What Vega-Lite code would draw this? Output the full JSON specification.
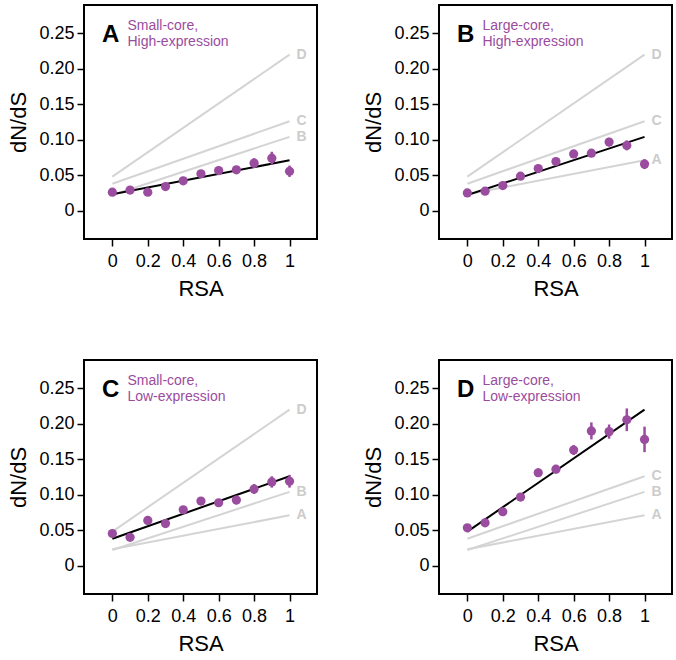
{
  "$schema": "https://vega.github.io/schema/vega-lite/v6.json",
  "padding": {"left": 6, "top": 4, "right": 0, "bottom": 0},
  "bounds": "flush",
  "spacing": {"row": 121, "column": 122},
  "data": {"values": [
    {"kind":"pt","panel":"A","rsa":0,"dnds":0.026,"lo":0.024,"hi":0.028},
    {"kind":"pt","panel":"A","rsa":0.1,"dnds":0.029,"lo":0.027,"hi":0.031},
    {"kind":"pt","panel":"A","rsa":0.2,"dnds":0.026,"lo":0.023,"hi":0.029},
    {"kind":"pt","panel":"A","rsa":0.3,"dnds":0.034,"lo":0.031,"hi":0.037},
    {"kind":"pt","panel":"A","rsa":0.4,"dnds":0.042,"lo":0.039,"hi":0.045},
    {"kind":"pt","panel":"A","rsa":0.5,"dnds":0.052,"lo":0.049,"hi":0.055},
    {"kind":"pt","panel":"A","rsa":0.6,"dnds":0.0565,"lo":0.0525,"hi":0.0605},
    {"kind":"pt","panel":"A","rsa":0.7,"dnds":0.0575,"lo":0.0535,"hi":0.0615},
    {"kind":"pt","panel":"A","rsa":0.8,"dnds":0.067,"lo":0.060,"hi":0.074},
    {"kind":"pt","panel":"A","rsa":0.9,"dnds":0.074,"lo":0.065,"hi":0.083},
    {"kind":"pt","panel":"A","rsa":1,"dnds":0.0555,"lo":0.0475,"hi":0.0635},
    {"kind":"pt","panel":"B","rsa":0,"dnds":0.025,"lo":0.023,"hi":0.027},
    {"kind":"pt","panel":"B","rsa":0.1,"dnds":0.0274,"lo":0.0254,"hi":0.0294},
    {"kind":"pt","panel":"B","rsa":0.2,"dnds":0.0354,"lo":0.0324,"hi":0.0384},
    {"kind":"pt","panel":"B","rsa":0.3,"dnds":0.0486,"lo":0.0456,"hi":0.0516},
    {"kind":"pt","panel":"B","rsa":0.4,"dnds":0.0594,"lo":0.0564,"hi":0.0624},
    {"kind":"pt","panel":"B","rsa":0.5,"dnds":0.0693,"lo":0.0653,"hi":0.0733},
    {"kind":"pt","panel":"B","rsa":0.6,"dnds":0.080,"lo":0.076,"hi":0.084},
    {"kind":"pt","panel":"B","rsa":0.7,"dnds":0.081,"lo":0.077,"hi":0.085},
    {"kind":"pt","panel":"B","rsa":0.8,"dnds":0.0967,"lo":0.0907,"hi":0.1027},
    {"kind":"pt","panel":"B","rsa":0.9,"dnds":0.092,"lo":0.085,"hi":0.099},
    {"kind":"pt","panel":"B","rsa":1,"dnds":0.0656,"lo":0.0586,"hi":0.0726},
    {"kind":"pt","panel":"C","rsa":0,"dnds":0.0453,"lo":0.0423,"hi":0.0483},
    {"kind":"pt","panel":"C","rsa":0.1,"dnds":0.040,"lo":0.037,"hi":0.043},
    {"kind":"pt","panel":"C","rsa":0.2,"dnds":0.0637,"lo":0.0597,"hi":0.0677},
    {"kind":"pt","panel":"C","rsa":0.3,"dnds":0.0594,"lo":0.0554,"hi":0.0634},
    {"kind":"pt","panel":"C","rsa":0.4,"dnds":0.0788,"lo":0.0748,"hi":0.0828},
    {"kind":"pt","panel":"C","rsa":0.5,"dnds":0.091,"lo":0.087,"hi":0.095},
    {"kind":"pt","panel":"C","rsa":0.6,"dnds":0.0887,"lo":0.0837,"hi":0.0937},
    {"kind":"pt","panel":"C","rsa":0.7,"dnds":0.0925,"lo":0.0865,"hi":0.0985},
    {"kind":"pt","panel":"C","rsa":0.8,"dnds":0.108,"lo":0.101,"hi":0.115},
    {"kind":"pt","panel":"C","rsa":0.9,"dnds":0.118,"lo":0.110,"hi":0.126},
    {"kind":"pt","panel":"C","rsa":1,"dnds":0.119,"lo":0.110,"hi":0.128},
    {"kind":"pt","panel":"D","rsa":0,"dnds":0.0533,"lo":0.0503,"hi":0.0563},
    {"kind":"pt","panel":"D","rsa":0.1,"dnds":0.0604,"lo":0.0574,"hi":0.0634},
    {"kind":"pt","panel":"D","rsa":0.2,"dnds":0.076,"lo":0.072,"hi":0.080},
    {"kind":"pt","panel":"D","rsa":0.3,"dnds":0.0967,"lo":0.0917,"hi":0.1017},
    {"kind":"pt","panel":"D","rsa":0.4,"dnds":0.131,"lo":0.125,"hi":0.137},
    {"kind":"pt","panel":"D","rsa":0.5,"dnds":0.136,"lo":0.130,"hi":0.142},
    {"kind":"pt","panel":"D","rsa":0.6,"dnds":0.163,"lo":0.156,"hi":0.170},
    {"kind":"pt","panel":"D","rsa":0.7,"dnds":0.190,"lo":0.178,"hi":0.202},
    {"kind":"pt","panel":"D","rsa":0.8,"dnds":0.189,"lo":0.179,"hi":0.199},
    {"kind":"pt","panel":"D","rsa":0.9,"dnds":0.2057,"lo":0.1897,"hi":0.2217},
    {"kind":"pt","panel":"D","rsa":1,"dnds":0.178,"lo":0.160,"hi":0.196},
    {"kind":"line","panel":"A","series":"A","rsa":0,"dnds":0.023},
    {"kind":"line","panel":"A","series":"A","rsa":1,"dnds":0.071},
    {"kind":"line","panel":"A","series":"B","rsa":0,"dnds":0.022},
    {"kind":"line","panel":"A","series":"B","rsa":1,"dnds":0.104},
    {"kind":"line","panel":"A","series":"C","rsa":0,"dnds":0.038},
    {"kind":"line","panel":"A","series":"C","rsa":1,"dnds":0.126},
    {"kind":"line","panel":"A","series":"D","rsa":0,"dnds":0.048},
    {"kind":"line","panel":"A","series":"D","rsa":1,"dnds":0.220},
    {"kind":"line","panel":"B","series":"A","rsa":0,"dnds":0.023},
    {"kind":"line","panel":"B","series":"A","rsa":1,"dnds":0.071},
    {"kind":"line","panel":"B","series":"B","rsa":0,"dnds":0.022},
    {"kind":"line","panel":"B","series":"B","rsa":1,"dnds":0.104},
    {"kind":"line","panel":"B","series":"C","rsa":0,"dnds":0.038},
    {"kind":"line","panel":"B","series":"C","rsa":1,"dnds":0.126},
    {"kind":"line","panel":"B","series":"D","rsa":0,"dnds":0.048},
    {"kind":"line","panel":"B","series":"D","rsa":1,"dnds":0.220},
    {"kind":"line","panel":"C","series":"A","rsa":0,"dnds":0.023},
    {"kind":"line","panel":"C","series":"A","rsa":1,"dnds":0.071},
    {"kind":"line","panel":"C","series":"B","rsa":0,"dnds":0.022},
    {"kind":"line","panel":"C","series":"B","rsa":1,"dnds":0.104},
    {"kind":"line","panel":"C","series":"C","rsa":0,"dnds":0.038},
    {"kind":"line","panel":"C","series":"C","rsa":1,"dnds":0.126},
    {"kind":"line","panel":"C","series":"D","rsa":0,"dnds":0.048},
    {"kind":"line","panel":"C","series":"D","rsa":1,"dnds":0.220},
    {"kind":"line","panel":"D","series":"A","rsa":0,"dnds":0.023},
    {"kind":"line","panel":"D","series":"A","rsa":1,"dnds":0.071},
    {"kind":"line","panel":"D","series":"B","rsa":0,"dnds":0.022},
    {"kind":"line","panel":"D","series":"B","rsa":1,"dnds":0.104},
    {"kind":"line","panel":"D","series":"C","rsa":0,"dnds":0.038},
    {"kind":"line","panel":"D","series":"C","rsa":1,"dnds":0.126},
    {"kind":"line","panel":"D","series":"D","rsa":0,"dnds":0.048},
    {"kind":"line","panel":"D","series":"D","rsa":1,"dnds":0.220},
    {"kind":"title","panel":"A","desc1":"Small-core,","desc2":"High-expression"},
    {"kind":"title","panel":"B","desc1":"Large-core,","desc2":"High-expression"},
    {"kind":"title","panel":"C","desc1":"Small-core,","desc2":"Low-expression"},
    {"kind":"title","panel":"D","desc1":"Large-core,","desc2":"Low-expression"}
  ]},
  "facet": {"field": "panel", "type": "nominal", "title": null, "header": {"labels": false, "title": null, "labelExpr": "''", "labelFontSize": 0, "labelPadding": 0}},
  "columns": 2,
  "resolve": {"axis": {"x": "independent", "y": "independent"}},
  "spec": {
    "width": 233,
    "height": 234,
    "layer": [
      {
        "transform": [{"filter": "datum.kind == 'line' && datum.series != datum.panel"}],
        "mark": {"type": "line", "color": "#d4d4d4", "strokeWidth": 2},
        "encoding": {
          "x": {"field": "rsa", "type": "quantitative", "title": "RSA",
            "scale": {"domain": [-0.16, 1.155], "nice": false, "zero": false},
            "axis": {"values": [0, 0.2, 0.4, 0.6, 0.8, 1], "format": "~g", "labelPadding": 6, "titlePadding": 8}},
          "y": {"field": "dnds", "type": "quantitative", "title": "dN/dS",
            "scale": {"domain": [-0.04, 0.29], "nice": false, "zero": false},
            "axis": {"values": [0, 0.05, 0.1, 0.15, 0.2, 0.25], "labelExpr": "datum.value == 0 ? '0' : format(datum.value, '.2f')", "labelPadding": 3, "titlePadding": 8}},
          "detail": {"field": "series", "type": "nominal"}
        }
      },
      {
        "transform": [{"filter": "datum.kind == 'line' && datum.series != datum.panel && datum.rsa == 1"}],
        "mark": {"type": "text", "align": "left", "baseline": "middle", "dx": 7, "fontSize": 14, "fontWeight": "bold", "color": "#cccccc"},
        "encoding": {
          "x": {"field": "rsa", "type": "quantitative", "title": "RSA"},
          "y": {"field": "dnds", "type": "quantitative", "title": "dN/dS"},
          "text": {"field": "series", "type": "nominal"}
        }
      },
      {
        "transform": [{"filter": "datum.kind == 'line' && datum.series == datum.panel"}],
        "mark": {"type": "line", "color": "black", "strokeWidth": 2},
        "encoding": {
          "x": {"field": "rsa", "type": "quantitative", "title": "RSA"},
          "y": {"field": "dnds", "type": "quantitative", "title": "dN/dS"},
          "detail": {"field": "series", "type": "nominal"}
        }
      },
      {
        "transform": [{"filter": "datum.kind == 'pt'"}],
        "mark": {"type": "rule", "color": "#9a4c9e", "strokeWidth": 2.5},
        "encoding": {
          "x": {"field": "rsa", "type": "quantitative", "title": "RSA"},
          "y": {"field": "lo", "type": "quantitative", "title": "dN/dS"},
          "y2": {"field": "hi"}
        }
      },
      {
        "transform": [{"filter": "datum.kind == 'pt'"}],
        "mark": {"type": "circle", "color": "#9a4c9e", "size": 85, "opacity": 1},
        "encoding": {
          "x": {"field": "rsa", "type": "quantitative", "title": "RSA"},
          "y": {"field": "dnds", "type": "quantitative", "title": "dN/dS"}
        }
      },
      {
        "transform": [{"filter": "datum.kind == 'title'"}],
        "mark": {"type": "text", "align": "right", "baseline": "alphabetic", "fontSize": 24, "fontWeight": "bold", "color": "black"},
        "encoding": {
          "x": {"datum": 0.04},
          "y": {"datum": 0.238},
          "text": {"field": "panel", "type": "nominal"}
        }
      },
      {
        "transform": [{"filter": "datum.kind == 'title'"}],
        "mark": {"type": "text", "align": "left", "baseline": "alphabetic", "fontSize": 14, "color": "#9a4c9e"},
        "encoding": {
          "x": {"datum": 0.085},
          "y": {"datum": 0.255},
          "text": {"field": "desc1", "type": "nominal"}
        }
      },
      {
        "transform": [{"filter": "datum.kind == 'title'"}],
        "mark": {"type": "text", "align": "left", "baseline": "alphabetic", "fontSize": 14, "color": "#9a4c9e"},
        "encoding": {
          "x": {"datum": 0.085},
          "y": {"datum": 0.2325},
          "text": {"field": "desc2", "type": "nominal"}
        }
      }
    ]
  },
  "config": {
    "font": "Liberation Sans",
    "header": {"labels": false, "title": null, "labelFontSize": 0, "labelPadding": 0},
    "view": {"stroke": "black", "strokeWidth": 2},
    "axis": {"grid": false, "domain": false, "tickColor": "black", "tickWidth": 1.5, "tickSize": 7,
      "labelFontSize": 18, "labelColor": "black", "titleFontSize": 22, "titleFontWeight": "normal", "titleColor": "black"}
  }
}
